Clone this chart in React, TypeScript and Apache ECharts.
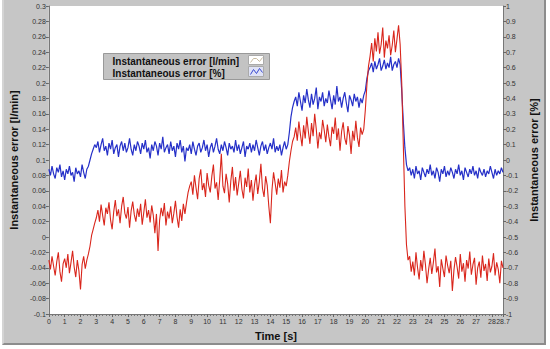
import React, { useEffect, useRef } from "react";
import * as echarts from "echarts";

// Sampling interval of the recorded signal [s]
const SAMPLE_STEP = 0.1;

// Instantaneous error [l/min] (left axis), one value per 0.1 s from 0 to 28.7 s
const errorLmin: number[] = [
  -0.030,-0.042,-0.025,-0.038,-0.050,-0.032,-0.020,-0.045,-0.058,-0.035,
  -0.028,-0.040,-0.022,-0.047,-0.033,-0.018,-0.039,-0.052,-0.030,-0.044,
  -0.068,-0.036,-0.025,-0.041,-0.030,-0.022,
  -0.012,0.002,0.010,0.018,0.025,
  0.035,0.020,0.042,0.028,0.015,0.038,0.030,0.045,0.022,0.010,
  0.033,0.048,0.027,0.036,0.018,0.040,0.052,0.031,0.024,0.039,
  0.012,0.034,0.046,0.029,0.020,0.037,0.026,0.043,0.016,0.032,
  0.049,0.025,0.035,0.019,0.041,0.028,0.005,0.030,-0.018,0.022,
  0.038,0.027,0.044,0.015,0.033,0.024,0.040,0.018,0.031,0.047,
  0.026,0.012,0.036,0.021,0.043,0.030,
  0.045,0.058,0.066,
  0.072,0.055,0.080,0.064,0.049,0.076,0.088,0.061,0.070,0.052,
  0.083,0.067,0.058,0.079,0.094,0.063,0.071,0.048,0.075,0.108,
  0.066,0.057,0.082,0.069,0.045,0.073,0.091,0.060,0.078,0.054,
  0.070,0.086,0.062,0.050,0.077,0.065,0.089,0.058,0.074,0.047,
  0.068,0.081,0.056,0.072,0.095,0.063,0.052,0.079,0.067,0.040,
  0.018,0.061,0.084,0.070,0.055,0.076,0.064,0.087,0.058,0.072,
  0.066,
  0.080,0.098,0.112,0.124,0.130,
  0.142,0.125,0.150,0.133,0.118,0.145,0.128,0.156,0.137,0.121,
  0.148,0.131,0.160,0.140,0.115,0.136,0.127,0.152,0.139,0.123,
  0.146,0.130,0.118,0.143,0.134,0.155,0.126,0.141,0.112,0.137,
  0.149,0.128,0.120,0.144,0.132,0.108,0.138,0.125,0.151,0.129,
  0.117,0.142,0.133,0.140,
  0.165,0.198,0.222,
  0.235,0.252,0.228,0.258,0.241,0.266,0.238,0.250,0.272,0.233,
  0.255,0.245,0.262,0.236,0.249,0.268,0.240,0.257,0.275,0.250,
  0.200,0.120,0.040,-0.010,-0.030,
  -0.025,-0.045,-0.032,-0.050,-0.020,-0.040,-0.055,-0.030,-0.044,-0.018,
  -0.036,-0.060,-0.042,-0.027,-0.048,-0.033,-0.015,-0.046,-0.038,-0.065,
  -0.029,-0.041,-0.052,-0.024,-0.037,-0.047,-0.031,-0.070,-0.043,-0.026,
  -0.039,-0.054,-0.022,-0.045,-0.034,-0.058,-0.030,-0.041,-0.019,-0.049,
  -0.036,-0.027,-0.062,-0.040,-0.032,-0.053,-0.024,-0.044,-0.035,-0.057,
  -0.028,-0.046,-0.038,-0.021,-0.050,-0.033,-0.042,-0.060,-0.031,-0.040,
];

// Instantaneous error [%] (right axis), one value per 0.1 s from 0 to 28.7 s
const errorPct: number[] = [
  -0.06,-0.10,-0.04,-0.09,-0.12,-0.05,-0.08,-0.03,-0.11,-0.07,
  -0.13,-0.06,-0.09,-0.04,-0.10,-0.08,-0.14,-0.05,-0.09,-0.07,
  -0.11,-0.03,-0.08,-0.12,-0.06,-0.04,
  0.00,0.04,0.07,0.10,
  0.08,0.12,0.05,0.10,0.14,0.06,0.09,0.03,0.11,0.07,
  0.13,0.04,0.08,0.10,0.02,0.09,0.12,0.06,0.11,0.05,
  0.08,0.14,0.07,0.03,0.10,0.06,0.12,0.09,0.04,0.11,
  0.07,0.13,0.05,0.08,0.01,0.10,0.06,0.12,0.09,0.03,
  0.11,0.07,0.15,0.05,0.08,0.10,0.04,0.12,0.06,0.09,
  0.02,0.11,0.07,0.13,0.05,0.09,-0.01,0.08,0.06,0.10,
  0.04,0.12,0.07,0.03,0.09,0.11,0.05,0.08,0.13,0.06,
  0.10,0.02,0.08,0.11,0.05,0.09,0.14,0.07,0.04,0.10,
  0.06,0.12,0.08,0.03,0.11,0.07,0.09,0.05,0.13,0.06,
  0.10,0.04,0.08,0.12,0.02,0.09,0.07,0.11,0.05,0.10,
  0.06,0.13,0.08,0.03,0.09,0.12,0.06,0.10,0.04,0.08,
  0.11,0.07,0.14,0.05,0.09,0.06,0.10,0.03,0.08,0.12,
  0.07,0.10,
  0.18,0.28,0.34,0.38,
  0.41,0.35,0.44,0.38,0.32,0.42,0.37,0.46,0.39,0.34,
  0.43,0.36,0.40,0.47,0.33,0.41,0.38,0.44,0.35,0.40,
  0.37,0.45,0.39,0.33,0.42,0.36,0.48,0.38,0.41,0.34,
  0.40,0.44,0.37,0.31,0.42,0.39,0.35,0.43,0.38,0.41,
  0.34,0.40,0.37,0.42,
  0.45,0.53,0.58,
  0.60,0.63,0.57,0.64,0.59,0.62,0.66,0.58,0.61,0.65,
  0.59,0.63,0.60,0.67,0.58,0.62,0.64,0.60,0.66,0.62,
  0.45,0.25,0.08,-0.03,-0.07,
  -0.05,-0.10,-0.06,-0.12,-0.04,-0.09,-0.07,-0.13,-0.05,-0.08,
  -0.11,-0.06,-0.09,-0.03,-0.10,-0.07,-0.12,-0.05,-0.08,-0.14,
  -0.06,-0.09,-0.04,-0.11,-0.07,-0.10,-0.05,-0.08,-0.12,-0.06,
  -0.09,-0.03,-0.10,-0.07,-0.13,-0.05,-0.08,-0.11,-0.06,-0.09,
  -0.04,-0.10,-0.07,-0.12,-0.05,-0.08,-0.10,-0.06,-0.11,-0.07,
  -0.09,-0.04,-0.08,-0.12,-0.06,-0.10,-0.07,-0.09,-0.05,-0.08,
];

const seriesNames = ["Instantaneous error [l/min]", "Instantaneous error [%]"];
const axisNames = { x: "Time [s]", left: "Instantaneous error [l/min]", right: "Instantaneous error [%]" };
const xRange = [0, 28.7];
const leftRange = [-0.1, 0.3];
const rightRange = [-1, 1];

const toPairs = (vals: number[]) =>
  vals.map((v, i) => [Math.round(i * SAMPLE_STEP * 10) / 10, v]);

const tickFont = "'Liberation Sans Narrow', 'Liberation Sans', Arial, sans-serif";
const boldFont = "'Liberation Sans', Arial, sans-serif";

export default function App() {
  const ref = useRef<HTMLDivElement>(null);
  useEffect(() => {
    if (!ref.current) return;
    const chart = echarts.init(ref.current, null, { renderer: "svg" });
    const axisLabel = { fontSize: 7, color: "#333", fontFamily: tickFont };
    const axisLine = { show: true, onZero: false, lineStyle: { color: "#777", width: 1 } };
    const nameStyle = { fontSize: 11, fontWeight: "bold", color: "#111", fontFamily: boldFont };
    chart.setOption({
      animation: false,
      backgroundColor: "transparent",
      grid: {
        left: 48, right: 47, top: 6, bottom: 35,
        show: true, backgroundColor: "#ffffff", borderWidth: 0,
      },
      xAxis: {
        type: "value", min: xRange[0], max: xRange[1], interval: 1,
        axisLine, axisTick: { show: true, length: 3, lineStyle: { color: "#666" } },
        minorTick: { show: true, splitNumber: 5, length: 2, lineStyle: { color: "#777" } },
        axisLabel: { ...axisLabel, margin: 4 },
        splitLine: { show: false },
        name: axisNames.x, nameLocation: "middle", nameGap: 16, nameTextStyle: nameStyle,
      },
      yAxis: [
        {
          type: "value", min: leftRange[0], max: leftRange[1], interval: 0.02,
          position: "left",
          axisLine, axisTick: { show: true, length: 3, lineStyle: { color: "#666" } },
          axisLabel: { ...axisLabel, margin: 3 },
          splitLine: { show: false },
          name: axisNames.left, nameLocation: "middle", nameRotate: 90, nameGap: 24,
          nameTextStyle: nameStyle,
        },
        {
          type: "value", min: rightRange[0], max: rightRange[1], interval: 0.1,
          position: "right",
          axisLine, axisTick: { show: true, length: 3, lineStyle: { color: "#666" } },
          axisLabel: { ...axisLabel, margin: 3 },
          splitLine: { show: false },
          name: axisNames.right, nameLocation: "middle", nameRotate: 90, nameGap: 22,
          nameTextStyle: nameStyle,
        },
      ],
      series: [
        {
          name: seriesNames[1], type: "line", yAxisIndex: 1, showSymbol: false,
          data: toPairs(errorPct),
          lineStyle: { color: "#2530c8", width: 1.2 },
          itemStyle: { color: "#2530c8" },
        },
        {
          name: seriesNames[0], type: "line", yAxisIndex: 0, showSymbol: false,
          data: toPairs(errorLmin),
          lineStyle: { color: "#d9261c", width: 1.1 },
          itemStyle: { color: "#d9261c" },
        },
      ],
      graphic: [
        {
          type: "group", left: 103, top: 53,
          children: [
            { type: "rect", shape: { x: 0, y: 0, width: 166, height: 26 },
              style: { fill: "#c3c3c3", stroke: "#999", lineWidth: 1 } },
            { type: "text", x: 9, y: 7.5,
              style: { text: seriesNames[0], fill: "#111", font: `bold 10px ${boldFont}`, verticalAlign: "middle" } },
            { type: "text", x: 9, y: 20,
              style: { text: seriesNames[1], fill: "#111", font: `bold 10px ${boldFont}`, verticalAlign: "middle" } },
            { type: "rect", shape: { x: 145, y: 2, width: 15, height: 9 },
              style: { fill: "#ffffff", stroke: "#aaa", lineWidth: 1 } },
            { type: "polyline", shape: { points: [[147, 9], [150, 5], [153, 5], [156, 8], [159, 4]] },
              style: { stroke: "#c8bba0", lineWidth: 1, fill: "none" } },
            { type: "rect", shape: { x: 145, y: 13, width: 15, height: 10 },
              style: { fill: "#dfe2f6", stroke: "#aaa", lineWidth: 1 } },
            { type: "polyline", shape: { points: [[147, 21], [150, 16], [153, 20], [156, 15], [159, 19]] },
              style: { stroke: "#3a4ad0", lineWidth: 1, fill: "none" } },
          ],
        },
      ],
    });
    return () => chart.dispose();
  }, []);

  return (
    <div style={{ position: "fixed", left: 0, top: 0, width: 550, height: 349, background: "#fff" }}>
      <div
        style={{
          position: "absolute", left: 2, top: 0, width: 544, height: 345, boxSizing: "border-box",
          background: "#c6c6c6", borderLeft: "2px solid #d4d4d4",
          borderRight: "2px solid #8c8c8c", borderBottom: "2px solid #8c8c8c",
        }}
      />
      <div ref={ref} style={{ position: "absolute", left: 0, top: 0, width: 550, height: 349 }} />
    </div>
  );
}
